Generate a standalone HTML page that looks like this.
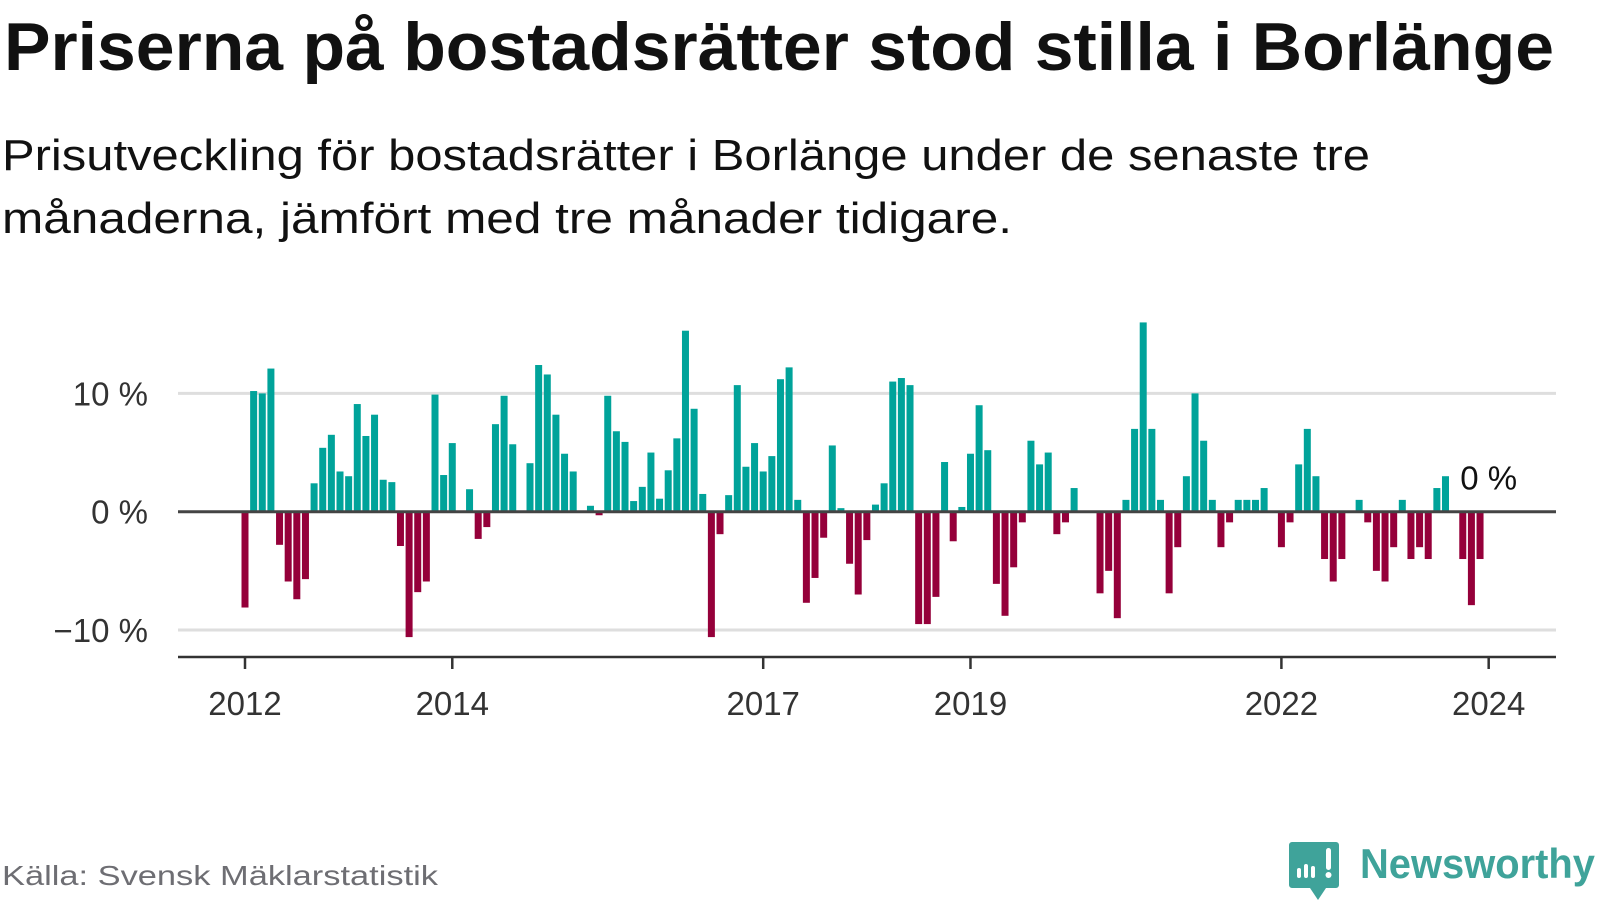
<!DOCTYPE html>
<html><head><meta charset="utf-8">
<style>
html,body{margin:0;padding:0;background:#fff;width:1600px;height:900px;overflow:hidden}
svg{display:block}
text{font-family:"Liberation Sans","DejaVu Sans",sans-serif}
</style></head>
<body>
<svg id="chart" width="1600" height="900" viewBox="0 0 1600 900">
  <text x="4" y="70" font-size="68" font-weight="bold" fill="#111" textLength="1550" lengthAdjust="spacingAndGlyphs">Priserna på bostadsrätter stod stilla i Borlänge</text>
  <text x="2" y="170" font-size="44" fill="#111" textLength="1368" lengthAdjust="spacingAndGlyphs">Prisutveckling för bostadsrätter i Borlänge under de senaste tre</text>
  <text x="2" y="233" font-size="44" fill="#111" textLength="1010" lengthAdjust="spacingAndGlyphs">månaderna, jämfört med tre månader tidigare.</text>
  <g id="grid"></g>
  <g id="bars"></g>
  <g id="axes"></g>
  <text x="2" y="885" font-size="28" fill="#6e6e73" textLength="436" lengthAdjust="spacingAndGlyphs">Källa: Svensk Mäklarstatistik</text>
  <g>
    <path d="M1292 842 h44 a3 3 0 0 1 3 3 v40 a3 3 0 0 1 -3 3 h-10 l-8 12 l-8 -12 h-18 a3 3 0 0 1 -3 -3 v-40 a3 3 0 0 1 3 -3z" fill="#3fa39a"/>
    <rect x="1297" y="868" width="4" height="10" rx="2" fill="#fff"/>
    <rect x="1304" y="864" width="4" height="14" rx="2" fill="#fff"/>
    <rect x="1311" y="866" width="4" height="12" rx="2" fill="#fff"/>
    <rect x="1326" y="848" width="5" height="22" rx="2.5" fill="#fff"/>
    <circle cx="1328.5" cy="875" r="3" fill="#fff"/>
    <text x="1360" y="878" font-size="42" font-weight="bold" fill="#3fa39a" textLength="235" lengthAdjust="spacingAndGlyphs">Newsworthy</text>
  </g>
</svg>
<script>
// Data: monthly values starting January 2012 (%)
const startYear = 2012;
const values = [
 -8.1,10.2,10.0,12.1,-2.8,-5.9,-7.4,-5.7,2.4,5.4,6.5,3.4,
 3.0,9.1,6.4,8.2,2.7,2.5,-2.9,-10.6,-6.8,-5.9,9.9,3.1,
 5.8,0,1.9,-2.3,-1.3,7.4,9.8,5.7,0,4.1,12.4,11.6,
 8.2,4.9,3.4,0,0.5,-0.3,9.8,6.8,5.9,0.9,2.1,5.0,
 1.1,3.5,6.2,15.3,8.7,1.5,-10.6,-1.9,1.4,10.7,3.8,5.8,
 3.4,4.7,11.2,12.2,1.0,-7.7,-5.6,-2.2,5.6,0.3,-4.4,-7.0,
 -2.4,0.6,2.4,11.0,11.3,10.7,-9.5,-9.5,-7.2,4.2,-2.5,0.4,
 4.9,9.0,5.2,-6.1,-8.8,-4.7,-0.9,6.0,4.0,5.0,-1.9,-0.9,
 2.0,0,0,-6.9,-5.0,-9.0,1.0,7.0,16.0,7.0,1.0,-6.9,
 -3.0,3.0,10.0,6.0,1.0,-3.0,-0.9,1.0,1.0,1.0,2.0,0,
 -3.0,-0.9,4.0,7.0,3.0,-4.0,-5.9,-4.0,0,1.0,-0.9,-5.0,
 -5.9,-3.0,1.0,-4.0,-3.0,-4.0,2.0,3.0,0,-4.0,-7.9,-4.0,
 0
];
const yTicks = [10, 0, -10];
const yTickLabels = ["10 %", "0 %", "\u221210 %"];
const xTickYears = [2012, 2014, 2017, 2019, 2022, 2024];
const lastLabel = "0 %";

const NS = "http://www.w3.org/2000/svg";
const X0 = 245, YEARW = 103.64, Y0 = 511.7, PCT = 11.83;
const PLOT_L = 178, PLOT_R = 1556, AXIS_Y = 657;
function xMonth(i){ return X0 + i * YEARW / 12; }
function xYear(y){ return X0 + (y - startYear) * YEARW; }
function yVal(v){ return Y0 - v * PCT; }
function mk(tag, attrs){ const e = document.createElementNS(NS, tag); for (const k in attrs) e.setAttribute(k, attrs[k]); return e; }

const grid = document.getElementById('grid');
yTicks.forEach((t, k) => {
  if (t !== 0) {
    const l = mk('line', {x1: PLOT_L, x2: PLOT_R, y1: yVal(t), y2: yVal(t), stroke: '#dedede', 'stroke-width': 3});
    
    
    grid.appendChild(l);
  }
  const tx = mk('text', {x: 148, y: yVal(t) + 12, 'font-size': 33, fill: '#333', 'text-anchor': 'end'});
  tx.textContent = yTickLabels[k];
  
  
  grid.appendChild(tx);
});

const bars = document.getElementById('bars');
const BW = 7;
values.forEach((v, i) => {
  if (v === 0) return;
  const x = xMonth(i) - BW / 2;
  const y = v > 0 ? yVal(v) : Y0;
  const h = Math.abs(v) * PCT;
  const r = mk('rect', {x: x, y: y, width: BW, height: h, fill: v > 0 ? '#00a39a' : '#95003a'});
  
  
  bars.appendChild(r);
});

const axes = document.getElementById('axes');
const zl = mk('line', {x1: PLOT_L, x2: PLOT_R, y1: Y0, y2: Y0, stroke: '#444', 'stroke-width': 3});


axes.appendChild(zl);
const ax = mk('line', {x1: PLOT_L, x2: PLOT_R, y1: AXIS_Y, y2: AXIS_Y, stroke: '#333', 'stroke-width': 2.5});


axes.appendChild(ax);
xTickYears.forEach(yr => {
  const x = xYear(yr);
  const t = mk('line', {x1: x, x2: x, y1: AXIS_Y, y2: AXIS_Y + 12, stroke: '#333', 'stroke-width': 2.5});
  
  
  axes.appendChild(t);
  const tx = mk('text', {x: x, y: 715, 'font-size': 33, fill: '#333', 'text-anchor': 'middle'});
  tx.textContent = String(yr);
  
  
  axes.appendChild(tx);
});
const li = values.length - 1;
const lv = values[li];
const lab = mk('text', {x: xMonth(li), y: Math.min(yVal(lv), Y0) - 22, 'font-size': 33, fill: '#111', 'text-anchor': 'middle'});
lab.textContent = lastLabel;


axes.appendChild(lab);
</script>
</body></html>
